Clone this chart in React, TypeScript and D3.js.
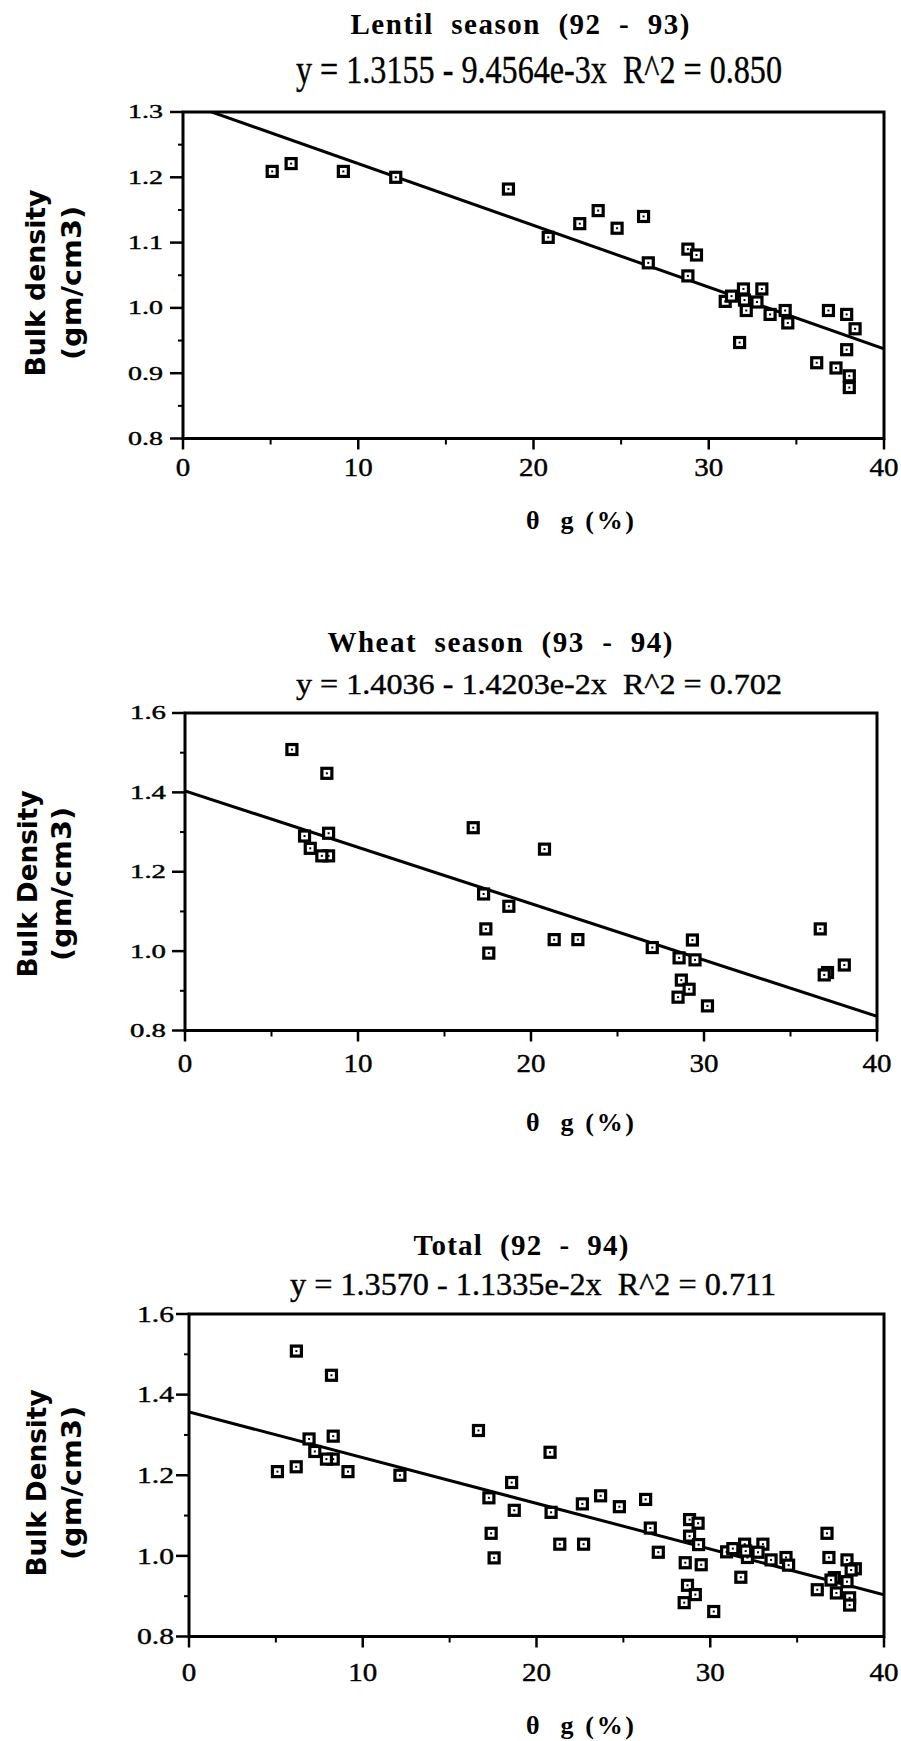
import React, { useRef, useEffect } from "react";
import * as d3 from "d3";

// Lentil season (92 - 93): gravimetric water content (%) vs bulk density
const lentilTheta = [
  5.09, 6.17, 9.15, 12.14, 18.57, 20.84, 22.64, 23.69, 24.77, 26.28, 26.55,
  28.81, 29.3, 28.81, 31.98, 33.03, 30.94, 31.3, 32.14, 32.04, 32.75, 33.5,
  34.36, 34.51, 31.76, 36.83, 37.87, 38.35, 37.87, 36.16, 37.26, 38.02, 38.02,
];
const lentilBD = [
  1.209, 1.221, 1.209, 1.2, 1.182, 1.108, 1.129, 1.149, 1.122, 1.14, 1.069,
  1.09, 1.081, 1.049, 1.029, 1.029, 1.01, 1.018, 0.996, 1.012, 1.009, 0.99,
  0.996, 0.977, 0.947, 0.996, 0.99, 0.968, 0.936, 0.916, 0.908, 0.896, 0.878,
];

// Wheat season (93 - 94)
const wheatTheta = [
  6.18, 8.2, 6.91, 8.3, 7.24, 8.3, 7.91, 16.66, 20.78, 17.26, 18.72, 17.39,
  17.56, 21.34, 22.71, 27.01, 29.33, 28.56, 29.48, 28.69, 29.14, 28.5, 30.2,
  36.72, 38.11, 37.14, 36.95,
];
const wheatBD = [
  1.508, 1.448, 1.29, 1.297, 1.259, 1.24, 1.24, 1.311, 1.257, 1.144, 1.113,
  1.056, 0.995, 1.029, 1.029, 1.009, 1.028, 0.983, 0.978, 0.927, 0.904, 0.884,
  0.862, 1.056, 0.965, 0.946, 0.94,
];

// Total (92 - 94) is both seasons together
const totalTheta = [...lentilTheta, ...wheatTheta];
const totalBD = [...lentilBD, ...wheatBD];

const titles = ["Lentil  season  (92  -  93)", "Wheat  season  (93  -  94)", "Total  (92  -  94)"];
const equations = [
  "y = 1.3155 - 9.4564e-3x  R^2 = 0.850",
  "y = 1.4036 - 1.4203e-2x  R^2 = 0.702",
  "y = 1.3570 - 1.1335e-2x  R^2 = 0.711",
];
const intercepts = [1.3155, 1.4036, 1.357];
const slopes = [-9.4564e-3, -1.4203e-2, -1.1335e-2];
const yDomains = [
  [0.8, 1.3],
  [0.8, 1.6],
  [0.8, 1.6],
];
const yTickStep = [0.1, 0.2, 0.2];
const yLabelTop = ["Bulk density", "Bulk Density", "Bulk Density"];
const xTicks = [0, 10, 20, 30, 40];

const SERIF = "'Liberation Serif', 'Times New Roman', serif";
const SANS = "'DejaVu Sans', 'Liberation Sans', sans-serif";

// panel geometry (pixels)
const panels = [
  {
    left: 183, right: 884, top: 112, bottom: 438.5,
    titleY: 34, titleX: 520, titleW: 339,
    eqY: 83, eqX: 539, eqSize: 40,
    tickLabelRight: 163, tickSize: 19, tickW: 35, xLabelY: 476, xTitleY: 529,
    yl1: 45, yl2: 81, ylY: 283,
  },
  {
    left: 185, right: 877, top: 713, bottom: 1030.5,
    titleY: 652, titleX: 500, titleW: 345,
    eqY: 694, eqX: 539, eqSize: 30,
    tickLabelRight: 166, tickSize: 19, tickW: 36, xLabelY: 1072, xTitleY: 1131,
    yl1: 37, yl2: 71, ylY: 884,
  },
  {
    left: 189, right: 884, top: 1314, bottom: 1636.5,
    titleY: 1255, titleX: 521, titleW: 215,
    eqY: 1295, eqX: 533, eqSize: 32,
    tickLabelRight: 174, tickSize: 23, tickW: 37, xLabelY: 1681, xTitleY: 1734,
    yl1: 46, yl2: 81, ylY: 1483,
  },
];

function ScatterFigure() {
  const svgRef = useRef<SVGSVGElement>(null);

  useEffect(() => {
    const svg = d3.select(svgRef.current);
    svg.selectAll("*").remove();

    const series = [
      { xs: lentilTheta, ys: lentilBD },
      { xs: wheatTheta, ys: wheatBD },
      { xs: totalTheta, ys: totalBD },
    ];

    panels.forEach((p, i) => {
      const x = d3.scaleLinear().domain([0, 40]).range([p.left, p.right]);
      const y = d3.scaleLinear().domain(yDomains[i]).range([p.bottom, p.top]);
      const g = svg.append("g");

      // title + fit equation
      g.append("text")
        .attr("x", p.titleX)
        .attr("y", p.titleY)
        .attr("text-anchor", "middle")
        .attr("font-family", SERIF)
        .attr("font-weight", "bold")
        .attr("font-size", 29)
        .attr("textLength", p.titleW)
        .style("white-space", "pre")
        .text(titles[i]);

      g.append("text")
        .attr("x", p.eqX)
        .attr("y", p.eqY)
        .attr("text-anchor", "middle")
        .attr("font-family", SERIF)
        .attr("font-size", p.eqSize)
        .attr("textLength", 486)
        .attr("lengthAdjust", "spacingAndGlyphs")
        .attr("stroke", "#000")
        .attr("stroke-width", 0.4)
        .style("white-space", "pre")
        .text(equations[i]);

      // clip for the regression line
      const clipId = `clip-${i}`;
      svg.append("clipPath")
        .attr("id", clipId)
        .append("rect")
        .attr("x", p.left)
        .attr("y", p.top)
        .attr("width", p.right - p.left)
        .attr("height", p.bottom - p.top);

      // y ticks: major outward with labels, minor halfway
      const [y0, y1] = yDomains[i];
      const step = yTickStep[i];
      const majors = d3.range(y0, y1 + step / 2, step);
      const minors = d3.range(y0 + step / 2, y1, step);

      g.selectAll(".ymaj")
        .data(majors)
        .enter()
        .append("line")
        .attr("x1", p.left - 13)
        .attr("x2", p.left)
        .attr("y1", (d) => y(d))
        .attr("y2", (d) => y(d))
        .attr("stroke", "#000")
        .attr("stroke-width", 2.5);

      g.selectAll(".ymin")
        .data(minors)
        .enter()
        .append("line")
        .attr("x1", p.left - 5)
        .attr("x2", p.left)
        .attr("y1", (d) => y(d))
        .attr("y2", (d) => y(d))
        .attr("stroke", "#000")
        .attr("stroke-width", 2);

      g.selectAll(".ylab")
        .data(majors)
        .enter()
        .append("text")
        .attr("x", p.tickLabelRight)
        .attr("y", (d) => y(d))
        .attr("dy", "0.34em")
        .attr("text-anchor", "end")
        .attr("font-family", SERIF)
        .attr("font-size", p.tickSize)
        .attr("textLength", p.tickW)
        .attr("lengthAdjust", "spacingAndGlyphs")
        .attr("stroke", "#000")
        .attr("stroke-width", 0.4)
        .text((d) => d.toFixed(1));

      // x ticks: major every 10, minor every 5, pointing down
      g.selectAll(".xmaj")
        .data(xTicks)
        .enter()
        .append("line")
        .attr("x1", (d) => x(d))
        .attr("x2", (d) => x(d))
        .attr("y1", p.bottom)
        .attr("y2", p.bottom + 11)
        .attr("stroke", "#000")
        .attr("stroke-width", 2.5);

      g.selectAll(".xmin")
        .data([5, 15, 25, 35])
        .enter()
        .append("line")
        .attr("x1", (d) => x(d))
        .attr("x2", (d) => x(d))
        .attr("y1", p.bottom)
        .attr("y2", p.bottom + 6)
        .attr("stroke", "#000")
        .attr("stroke-width", 2);

      g.selectAll(".xlab")
        .data(xTicks)
        .enter()
        .append("text")
        .attr("x", (d) => x(d))
        .attr("y", p.xLabelY)
        .attr("text-anchor", "middle")
        .attr("font-family", SERIF)
        .attr("font-size", 25)
        .attr("textLength", (d) => String(d).length * 14.5)
        .attr("lengthAdjust", "spacingAndGlyphs")
        .attr("stroke", "#000")
        .attr("stroke-width", 0.4)
        .text((d) => d);

      // frame
      g.append("rect")
        .attr("x", p.left)
        .attr("y", p.top)
        .attr("width", p.right - p.left)
        .attr("height", p.bottom - p.top)
        .attr("fill", "none")
        .attr("stroke", "#000")
        .attr("stroke-width", 3);

      // regression line
      const fit = (t: number) => intercepts[i] + slopes[i] * t;
      g.append("path")
        .attr("clip-path", `url(#${clipId})`)
        .attr(
          "d",
          d3
            .line<number>()
            .x((t) => x(t))
            .y((t) => y(fit(t)))([0, 40])
        )
        .attr("stroke", "#000")
        .attr("stroke-width", 3)
        .attr("fill", "none");

      // data markers: square with a dot in the middle
      const pts = series[i].xs.map((t, k) => ({ t, bd: series[i].ys[k] }));
      const mk = g
        .selectAll(".pt")
        .data(pts)
        .enter()
        .append("g")
        .attr("transform", (d) => `translate(${x(d.t)},${y(d.bd)})`);
      mk.append("rect")
        .attr("x", -5)
        .attr("y", -5)
        .attr("width", 10)
        .attr("height", 10)
        .attr("fill", "#fff")
        .attr("stroke", "#000")
        .attr("stroke-width", 3.2);
      mk.append("rect")
        .attr("x", -1)
        .attr("y", -1)
        .attr("width", 2)
        .attr("height", 2)
        .attr("fill", "#000");

      // axis titles
      g.append("text")
        .attr("x", 580)
        .attr("y", p.xTitleY)
        .attr("text-anchor", "middle")
        .attr("font-family", SERIF)
        .attr("font-weight", "bold")
        .attr("font-size", 26)
        .attr("textLength", 108)
        .style("white-space", "pre")
        .text("θ  g (%)");

      g.append("text")
        .attr("transform", `translate(${p.yl1},${p.ylY}) rotate(-90)`)
        .attr("text-anchor", "middle")
        .attr("font-family", SANS)
        .attr("font-weight", "bold")
        .attr("font-size", 26)
        .attr("textLength", 187)
        .attr("lengthAdjust", "spacingAndGlyphs")
        .text(yLabelTop[i]);

      g.append("text")
        .attr("transform", `translate(${p.yl2},${p.ylY}) rotate(-90)`)
        .attr("text-anchor", "middle")
        .attr("font-family", SANS)
        .attr("font-weight", "bold")
        .attr("font-size", 26)
        .attr("textLength", 154)
        .attr("lengthAdjust", "spacingAndGlyphs")
        .text("(gm/cm3)");
    });
  }, []);

  return (
    <svg
      ref={svgRef}
      width={901}
      height={1741}
      style={{ position: "absolute", left: 0, top: 0, background: "#fff" }}
    />
  );
}

export default function App() {
  return <ScatterFigure />;
}
